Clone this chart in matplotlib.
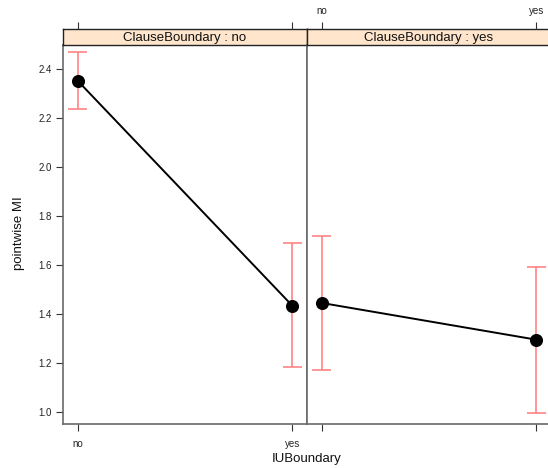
import matplotlib
matplotlib.use("Agg")
import matplotlib.pyplot as plt

plt.rcParams['font.family'] = ['Liberation Sans', 'DejaVu Sans']

levels = ["no", "yes"]
panels = ["ClauseBoundary : no", "ClauseBoundary : yes"]
fit = [[2.352, 1.433], [1.445, 1.295]]
lower = [[2.235, 1.185], [1.170, 0.995]]
upper = [[2.468, 1.689], [1.720, 1.590]]
yticks = [1.0, 1.2, 1.4, 1.6, 1.8, 2.0, 2.2, 2.4]

W, H = 548, 468
fig = plt.figure(figsize=(W / 100, H / 100), dpi=100)

def px(x0, y0, x1, y1):
    return [x0 / W, 1 - y1 / H, (x1 - x0) / W, (y1 - y0) / H]

frame_col = "#6a6a6a"
err_col = "#FF7A7A"
panel_x = [(63, 307), (307, 551)]
xs = [1, 2]
XL = (0.932, 2.0675)

for i, (x0, x1) in enumerate(panel_x):
    ax = fig.add_axes(px(x0, 45.4, x1, 424))
    ax.set_xlim(*XL)
    ax.set_ylim(0.951, 2.496)
    ax.vlines(xs, lower[i], upper[i], color=err_col, lw=1.1, zorder=2)
    for x, lo, hi in zip(xs, lower[i], upper[i]):
        ax.hlines([lo, hi], x - 0.046, x + 0.046, color=err_col, lw=1.1, zorder=2)
    ax.plot(xs, fit[i], color="black", lw=1.4, zorder=3)
    ax.plot(xs, fit[i], "o", color="black", ms=8.4, zorder=4)
    for s in ax.spines.values():
        s.set_color(frame_col)
        s.set_linewidth(1.2)
    ax.set_xticks(xs)
    ax.tick_params(axis="both", direction="out", length=5, color="#333333",
                   labelsize=7, labelcolor="#222222", width=0.8)
    ax.tick_params(axis="x", top=False, labeltop=False, bottom=True)
    if i == 0:
        ax.set_xticklabels(levels)
        ax.tick_params(axis="x", labelbottom=True, pad=6)
        ax.set_yticks(yticks)
        ax.set_yticklabels([f"{v:.1f}" for v in yticks])
        ax.tick_params(axis="y", left=True, labelleft=True, right=False, pad=3)
    else:
        ax.set_xticklabels(["", ""])
        ax.tick_params(axis="x", labelbottom=False)
        ax.set_yticks([])
    # strip
    sax = fig.add_axes(px(x0, 28.7, x1, 45.4))
    sax.set_xlim(0, 1)
    sax.set_ylim(0, 1)
    sax.set_facecolor("#FFE5CC")
    sax.set_xticks([])
    sax.set_yticks([])
    for s in sax.spines.values():
        s.set_color("#222222")
        s.set_linewidth(1.0)
    sax.text(0.5, 0.45, panels[i], ha="center", va="center", fontsize=9.5, color="#111111")
    # top ticks above strip
    tax = fig.add_axes(px(x0, 28.7, x1, 28.7 + 0.001))
    tax.set_xlim(*XL)
    tax.patch.set_visible(False)
    for s in tax.spines.values():
        s.set_visible(False)
    tax.set_yticks([])
    tax.set_xticks(xs)
    tax.xaxis.set_ticks_position("top")
    tax.tick_params(axis="x", direction="out", length=5, color="#333333", width=0.8,
                    labelsize=7, labelcolor="#222222", pad=4)
    tax.set_xticklabels(levels if i == 1 else ["", ""])

fig.text(307 / W, 1 - 459 / H, "IUBoundary", ha="center", va="center", fontsize=9.5, color="#111111")
fig.text(19 / W, 1 - 233 / H, "pointwise MI", ha="center", va="center", rotation=90, fontsize=9.5, color="#111111")

fig.savefig("out.png", dpi=100)
